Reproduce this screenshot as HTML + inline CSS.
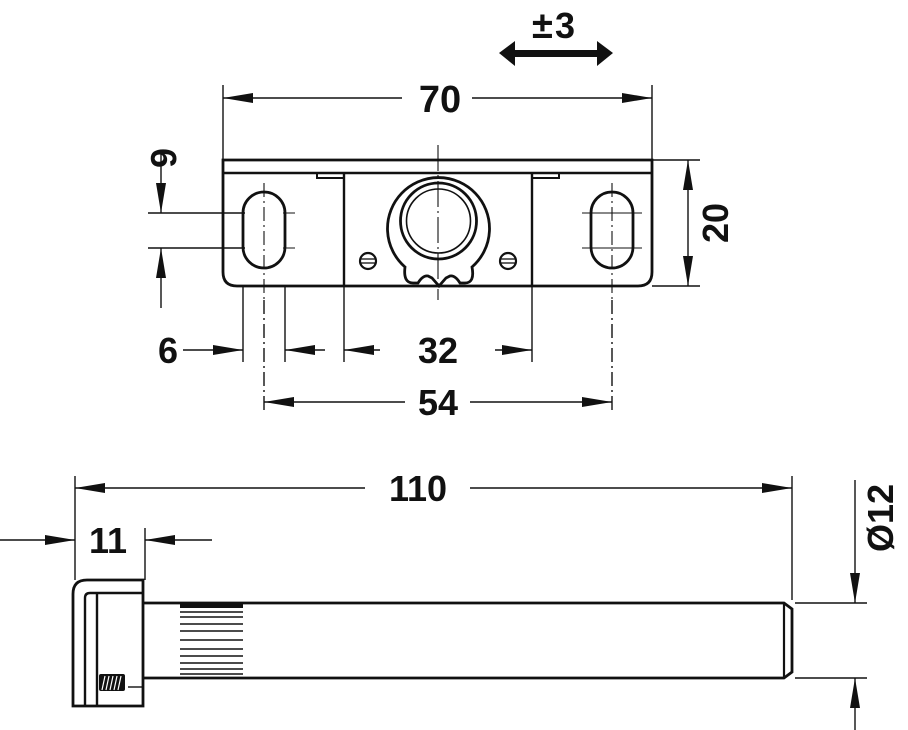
<!DOCTYPE html>
<html><head><style>
html,body{margin:0;padding:0;background:#fff;}
svg{display:block;}
text{font-family:"Liberation Sans",Arial,sans-serif;font-weight:bold;fill:#111;}
</style></head><body>
<svg width="908" height="730" viewBox="0 0 908 730" xmlns="http://www.w3.org/2000/svg">
<defs>
<marker id="a" viewBox="0 0 30 10" refX="30" refY="5" markerWidth="30" markerHeight="10" markerUnits="userSpaceOnUse" orient="auto-start-reverse">
<path d="M0,0 L30,5 L0,10 Z" fill="#111"/></marker>
</defs>
<g stroke="#111" fill="none">
<line x1="223" y1="85" x2="223" y2="160" stroke-width="1.4"/>
<line x1="652" y1="85" x2="652" y2="160" stroke-width="1.4"/>
<line x1="223" y1="98" x2="402" y2="98" stroke-width="1.4" marker-start="url(#a)"/>
<line x1="472" y1="98" x2="652" y2="98" stroke-width="1.4" marker-end="url(#a)"/>
<path d="M499,53 L515,41 L515,50 L597,50 L597,41 L613,53 L597,66 L597,57 L515,57 L515,66 Z" fill="#111" stroke="none"/>
<path d="M223,160 L652,160 L652,272 Q652,286 638,286 L237,286 Q223,286 223,272 Z" stroke-width="2.8"/>
<line x1="223" y1="173" x2="652" y2="173" stroke-width="2.6"/>
<line x1="344" y1="173" x2="344" y2="286" stroke-width="2.4"/>
<line x1="532" y1="173" x2="532" y2="286" stroke-width="2.4"/>
<path d="M317,173 L317,178 L344,178" stroke-width="2"/>
<path d="M532,178 L559,178 L559,173" stroke-width="2"/>
<rect x="243" y="192" width="42" height="76" rx="21" stroke-width="2.8"/>
<rect x="591" y="192" width="42" height="76" rx="21" stroke-width="2.8"/>
<path d="M405,267 A51,51 0 1 1 472,267 Q475,283 465,283 L460,283 Q455,275 450,276 L446,278 L439,286 L432,278 L428,276 Q423,275 418,283 L413,283 Q403,283 405,267 Z" stroke-width="2.8"/>
<circle cx="438.5" cy="221" r="38" stroke-width="2.8"/>
<circle cx="438.5" cy="221" r="32" stroke-width="1.6"/>
<circle cx="368" cy="261" r="8" stroke-width="2.2"/>
<line x1="361" y1="259" x2="375" y2="259" stroke-width="1.3"/><line x1="361" y1="263" x2="375" y2="263" stroke-width="1.3"/>
<circle cx="508" cy="261" r="8" stroke-width="2.2"/>
<line x1="501" y1="259" x2="515" y2="259" stroke-width="1.3"/><line x1="501" y1="263" x2="515" y2="263" stroke-width="1.3"/>
<line x1="438" y1="145" x2="438" y2="300" stroke-width="1.1" stroke-dasharray="26,4,2,4"/>
<line x1="264" y1="183" x2="264" y2="300" stroke-width="1.1" stroke-dasharray="14,4,2,4"/>
<line x1="612" y1="183" x2="612" y2="300" stroke-width="1.1" stroke-dasharray="14,4,2,4"/>
<line x1="283" y1="213" x2="295" y2="213" stroke-width="1"/><line x1="283" y1="248" x2="295" y2="248" stroke-width="1"/>
<line x1="582" y1="213" x2="642" y2="213" stroke-width="1"/><line x1="582" y1="248" x2="642" y2="248" stroke-width="1"/>
<line x1="148" y1="213" x2="245" y2="213" stroke-width="1.4"/>
<line x1="148" y1="248" x2="245" y2="248" stroke-width="1.4"/>
<line x1="161" y1="150" x2="161" y2="213" stroke-width="1.4" marker-end="url(#a)"/>
<line x1="161" y1="308" x2="161" y2="248" stroke-width="1.4" marker-end="url(#a)"/>
<line x1="652" y1="160" x2="700" y2="160" stroke-width="1.4"/>
<line x1="652" y1="286" x2="700" y2="286" stroke-width="1.4"/>
<line x1="688" y1="160" x2="688" y2="286" stroke-width="1.4" marker-start="url(#a)" marker-end="url(#a)"/>
<line x1="243" y1="286" x2="243" y2="362" stroke-width="1.4"/>
<line x1="285" y1="286" x2="285" y2="362" stroke-width="1.4"/>
<line x1="344" y1="286" x2="344" y2="362" stroke-width="1.4"/>
<line x1="532" y1="286" x2="532" y2="362" stroke-width="1.4"/>
<line x1="264" y1="300" x2="264" y2="412" stroke-width="1.4" stroke-dasharray="14,4,2,4"/>
<line x1="612" y1="300" x2="612" y2="412" stroke-width="1.4" stroke-dasharray="14,4,2,4"/>
<line x1="183" y1="350" x2="243" y2="350" stroke-width="1.4" marker-end="url(#a)"/>
<line x1="325" y1="350" x2="285" y2="350" stroke-width="1.4" marker-end="url(#a)"/>
<line x1="380" y1="350" x2="344" y2="350" stroke-width="1.4" marker-end="url(#a)"/>
<line x1="495" y1="350" x2="532" y2="350" stroke-width="1.4" marker-end="url(#a)"/>
<line x1="264" y1="402" x2="405" y2="402" stroke-width="1.4" marker-start="url(#a)"/>
<line x1="470" y1="402" x2="612" y2="402" stroke-width="1.4" marker-end="url(#a)"/>
<line x1="75" y1="476" x2="75" y2="580" stroke-width="1.4"/>
<line x1="792" y1="476" x2="792" y2="600" stroke-width="1.4"/>
<line x1="145" y1="528" x2="145" y2="580" stroke-width="1.4"/>
<line x1="75" y1="488" x2="365" y2="488" stroke-width="1.4" marker-start="url(#a)"/>
<line x1="470" y1="488" x2="792" y2="488" stroke-width="1.4" marker-end="url(#a)"/>
<line x1="0" y1="540" x2="75" y2="540" stroke-width="1.4" marker-end="url(#a)"/>
<line x1="212" y1="540" x2="145" y2="540" stroke-width="1.4" marker-end="url(#a)"/>
<line x1="795" y1="603" x2="867" y2="603" stroke-width="1.4"/>
<line x1="795" y1="678" x2="867" y2="678" stroke-width="1.4"/>
<line x1="855" y1="480" x2="855" y2="603" stroke-width="1.4" marker-end="url(#a)"/>
<line x1="855" y1="730" x2="855" y2="678" stroke-width="1.4" marker-end="url(#a)"/>
<path d="M143,603 L784,603 L792,609 L792,672 L784,678 L143,678" stroke-width="2.8"/>
<line x1="784" y1="603" x2="784" y2="678" stroke-width="2.2"/>
<rect x="180" y="603" width="63" height="5" fill="#111" stroke="none"/>
<g stroke-width="1.6">
<line x1="180" y1="612" x2="243" y2="612"/><line x1="180" y1="617" x2="243" y2="617"/>
<line x1="180" y1="624" x2="243" y2="624"/><line x1="180" y1="631" x2="243" y2="631"/>
<line x1="180" y1="640" x2="243" y2="640"/><line x1="180" y1="649" x2="243" y2="649"/>
<line x1="180" y1="656" x2="243" y2="656"/><line x1="180" y1="663" x2="243" y2="663"/>
<line x1="180" y1="669" x2="243" y2="669"/><line x1="180" y1="674" x2="243" y2="674"/>
</g>
<path d="M143,580 L87,580 Q73,580 73,594 L73,706 L143,706 Z" stroke-width="2.8"/>
<path d="M143,593 L90,593 Q85,593 85,598 L85,706" stroke-width="2.4"/>
<line x1="97" y1="593" x2="97" y2="706" stroke-width="2.4"/>
<line x1="128" y1="687" x2="143" y2="687" stroke-width="1.4"/>
<rect x="99" y="674" width="26" height="17" rx="2" fill="#111" stroke="none"/>
<path d="M102,690 L105,676 M106,690 L109,676 M110,690 L113,676 M114,690 L117,676 M118,690 L121,676" stroke="#fff" stroke-width="1.2"/>
</g>
<text x="440" y="112" font-size="38" text-anchor="middle">70</text>
<text x="532" y="38" font-size="38">±</text>
<text x="555" y="38" font-size="36">3</text>
<text x="168" y="363" font-size="36" text-anchor="middle">6</text>
<text x="438" y="363" font-size="36" text-anchor="middle">32</text>
<text x="438" y="415" font-size="36" text-anchor="middle">54</text>
<text x="418" y="501" font-size="36" text-anchor="middle">110</text>
<text x="108" y="553" font-size="36" text-anchor="middle">11</text>
<text transform="translate(151,158) rotate(90)" font-size="36" text-anchor="middle">6</text>
<text transform="translate(728,223) rotate(-90)" font-size="36" text-anchor="middle">20</text>
<text transform="translate(893,518) rotate(-90)" font-size="36" text-anchor="middle">Ø12</text>
</svg>
</body></html>
